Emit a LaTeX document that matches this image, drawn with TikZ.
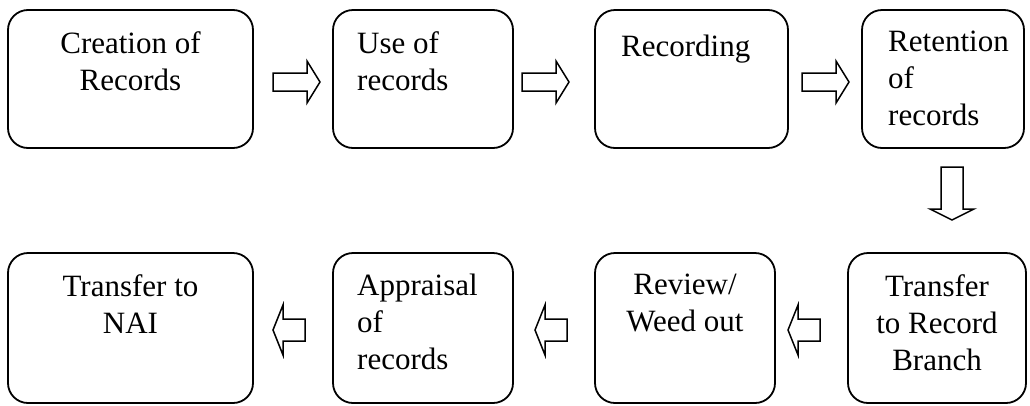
\documentclass[tikz,border=0pt]{standalone}
\usepackage{fontspec}
\setmainfont{Liberation Serif}
\begin{document}
\begin{tikzpicture}[x=1pt,y=-1pt,
  box/.style={draw, line width=1.8pt, rounded corners=20pt, inner sep=0pt, outer sep=0pt},
  % the first line of every label gets a fixed 25pt height, so anchor=north
  % places the first baseline 25pt below the given point
  txt/.style={inner sep=0pt, anchor=north, font=\fontsize{31}{37}\selectfont,
    execute at begin node={\rule{0pt}{25pt}}},
  ltxt/.style={txt, anchor=north west, align=left},
  ctxt/.style={txt, anchor=north, align=center},
  arrowline/.style={draw, line width=1.5pt, fill=white, line join=miter},
  pics/barrow/.style n args={4}{code={
    \draw[arrowline] (0,-#2) -- ({#1-#4},-#2) -- ({#1-#4},-#3) -- (#1,0)
      -- ({#1-#4},#3) -- ({#1-#4},#2) -- (0,#2) -- cycle;
  }}]
\useasboundingbox (0,0) rectangle (1030,405);

% top row of stages
\node[box, minimum width=245pt, minimum height=138pt] (b1) at (130.5,79) {};
\node[box, minimum width=180pt, minimum height=138pt] (b2) at (423,79) {};
\node[box, minimum width=193pt, minimum height=138pt] (b3) at (691.5,79) {};
\node[box, minimum width=162pt, minimum height=138pt] (b4) at (943,79) {};

% bottom row of stages
\node[box, minimum width=245pt, minimum height=150pt] (b5) at (130.5,328) {};
\node[box, minimum width=180pt, minimum height=150pt] (b6) at (423,328) {};
\node[box, minimum width=180pt, minimum height=150pt] (b7) at (685,328) {};
\node[box, minimum width=178pt, minimum height=150pt] (b8) at (937,328) {};

% stage labels (first baselines at 56 and 299)
\node[ctxt] (t1) at (130.5,31) {Creation of\\Records};
\node[ltxt] (t2) at (357,31) {Use of\\records};
\node[ltxt] (t3) at (621,31) {Recording};
\node[ltxt] (t4) at (888,31) {Retention\\of\\records};
\node[ctxt] (t5) at (130.5,274) {Transfer to\\NAI};
\node[ltxt] (t6) at (357,274) {Appraisal\\of\\records};
\node[ctxt] (t7) at (685,274) {Review/\\Weed out};
\node[ctxt] (t8) at (937,274) {Transfer\\to Record\\Branch};

% block arrows between stages
\pic at (273,82) {barrow={47}{9}{21}{13}};
\pic at (522,82) {barrow={47}{9}{21}{13}};
\pic at (802,82) {barrow={47}{9}{21}{13}};
\pic[rotate=-90] at (952,167) {barrow={53}{11}{22}{11}};
\pic[rotate=180] at (305,330) {barrow={32}{11}{25}{10}};
\pic[rotate=180] at (567,330) {barrow={32}{11}{25}{10}};
\pic[rotate=180] at (820,330) {barrow={32}{11}{25}{10}};
\end{tikzpicture}
\end{document}
